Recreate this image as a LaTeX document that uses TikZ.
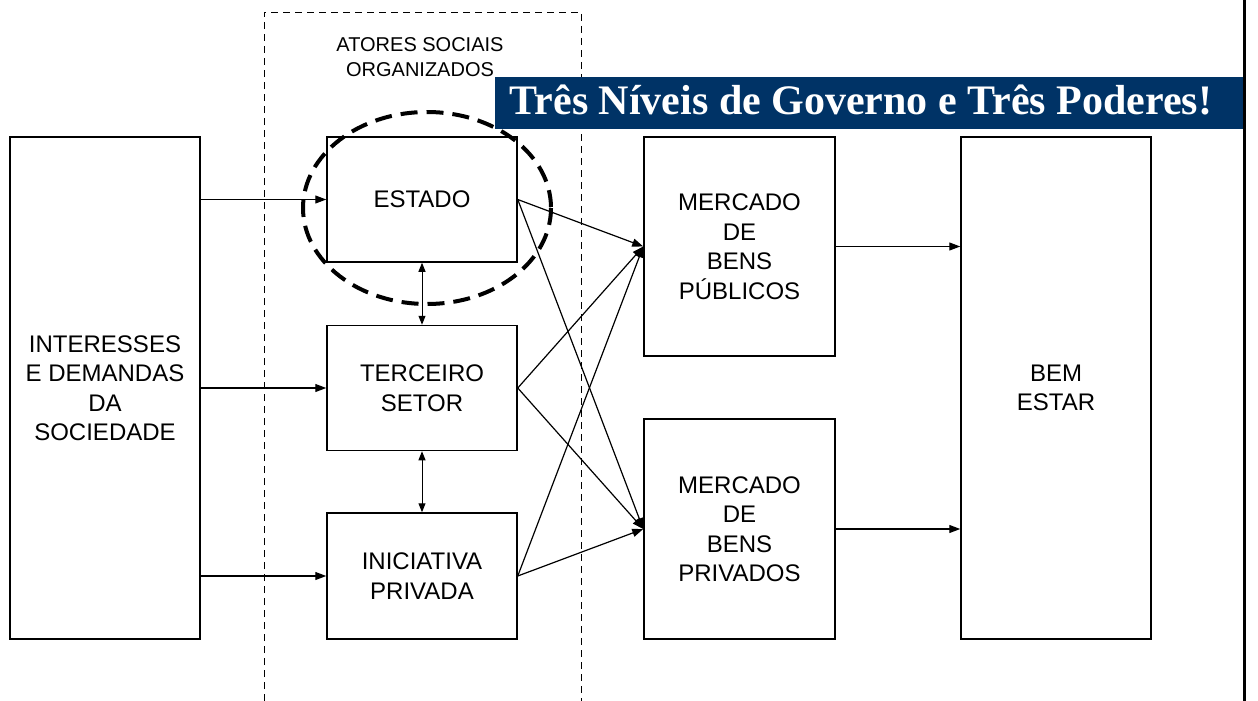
\documentclass[tikz,border=0pt]{standalone}
\usepackage{fontspec}
\setmainfont{Liberation Sans}
\newfontfamily\bannerfont{Liberation Serif}
\usetikzlibrary{arrows.meta}
\definecolor{navy}{RGB}{0,51,102}
\begin{document}
\begin{tikzpicture}[x=1pt,y=-1pt,
  box/.style={draw, line width=1.5pt, minimum width=190pt, inner sep=0pt, align=center,
              font=\fontsize{24}{29.5}\selectfont},
  arr/.style={line width=1.2pt, -{Triangle[length=11pt,width=8pt]}},
  darr/.style={line width=1pt, {Triangle[length=9pt,width=7pt]}-{Triangle[length=9pt,width=7pt]}},
  grouprect/.style={line width=0.8pt, dash pattern=on 7pt off 5pt},
  ring/.style={line width=4pt, dash pattern=on 17pt off 9pt},
  banner/.style={fill=navy, inner sep=0pt, minimum width=748pt, minimum height=52pt},
  bannertext/.style={text=white, inner sep=0pt,
    font=\bannerfont\bfseries\fontsize{42}{42}\selectfont}
]
\useasboundingbox (0,0) rectangle (1258,701);
\fill[white] (0,0) rectangle (1258,701);

% group rectangle
\draw[grouprect] (264,701) -- (264,12) -- (581,12) -- (581,701);
\node[align=center, font=\fontsize{20}{25}\selectfont] (atores) at (420,57) {ATORES SOCIAIS\\ORGANIZADOS};

% boxes
\node[box, minimum height=502pt] (int) at (105,388) {INTERESSES\\E DEMANDAS\\DA\\SOCIEDADE};
\node[box, minimum height=125pt] (estado) at (422,199.5) {ESTADO};
\node[box, minimum height=125pt] (terceiro) at (422,388) {TERCEIRO\\SETOR};
\node[box, minimum height=126pt] (inic) at (422,576) {INICIATIVA\\PRIVADA};
\node[box, minimum width=191pt, minimum height=219pt] (mpub) at (739.5,246.5) {MERCADO\\DE\\BENS\\PÚBLICOS};
\node[box, minimum width=191pt, minimum height=220pt] (mpriv) at (739.5,529) {MERCADO\\DE\\BENS\\PRIVADOS};
\node[box, minimum height=502pt] (bem) at (1056,388) {BEM\\ESTAR};

% arrows
\draw[arr] (int.east |- estado.west) -- (estado.west);
\draw[arr] (int.east |- terceiro.west) -- (terceiro.west);
\draw[arr] (int.east |- inic.west) -- (inic.west);
\draw[darr] (estado.south) -- (terceiro.north);
\draw[darr] (terceiro.south) -- (inic.north);
\draw[arr] (estado.east) -- (mpub.west);
\draw[arr] (estado.east) -- (mpriv.west);
\draw[arr] (terceiro.east) -- (mpub.west);
\draw[arr] (terceiro.east) -- (mpriv.west);
\draw[arr] (inic.east) -- (mpub.west);
\draw[arr] (inic.east) -- (mpriv.west);
\draw[arr] (mpub.east) -- (bem.west |- mpub.east);
\draw[arr] (mpriv.east) -- (bem.west |- mpriv.east);

% dashed ring around ESTADO
\draw[ring] (427,208) ellipse [x radius=124, y radius=96];

% right border line
\draw[line width=2.5pt] (1244.5,0) -- (1244.5,701);

% banner
\node[banner] (title) at (869,103) {};
\node[bannertext, anchor=base] (titletext) at (861,114) {Três Níveis de Governo e Três Poderes!};
\end{tikzpicture}
\end{document}
